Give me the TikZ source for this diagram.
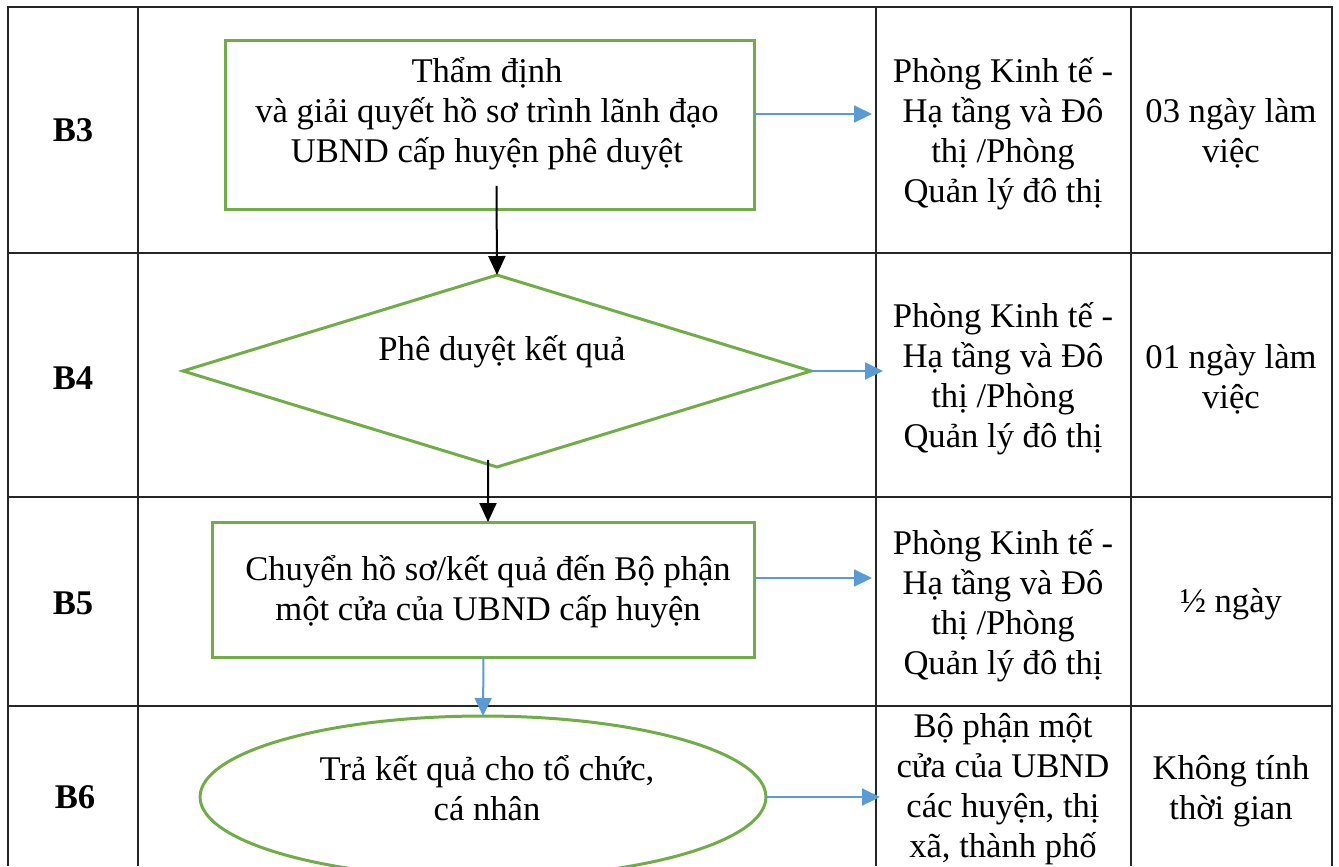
\documentclass[tikz,border=0pt]{standalone}
\usepackage{fontspec}
\setmainfont{Liberation Serif}
\usepackage{xcolor}
\usetikzlibrary{arrows.meta, positioning, shapes.geometric}

\definecolor{boxgreen}{HTML}{70AD47}
\definecolor{arrowblue}{HTML}{5B9BD5}

\tikzset{
    grid/.style={line width=0.04cm, draw=black!85},
    stepbox/.style={draw=boxgreen, line width=0.06cm, rectangle, inner sep=0pt, outer sep=0pt},
    txt/.style={align=center, font=\fontsize{19.7}{22.8}\selectfont},
    rowlabel/.style={font=\fontsize{19.7}{22.8}\selectfont\bfseries},
    blackarr/.style={line width=0.04cm, -{Triangle[length=0.38cm, width=0.34cm]}},
    bluearr/.style={line width=0.04cm, draw=arrowblue, -{Triangle[length=0.36cm, width=0.34cm, fill=arrowblue]}}
}

\begin{document}
\begin{tikzpicture}[x=0.02cm, y=-0.02cm]
        \useasboundingbox (0,0) rectangle (1339,866);

        % Table grid
        \draw[grid] (8,866) -- (8,7) -- (1332,7) -- (1332,866);
        \draw[grid] (138,7) -- (138,866);
        \draw[grid] (876,7) -- (876,866);
        \draw[grid] (1131,7) -- (1131,866);
        \draw[grid] (8,253) -- (1332,253);
        \draw[grid] (8,497) -- (1332,497);
        \draw[grid] (8,706) -- (1332,706);

        % Step labels
        \node (b3) [rowlabel] at (73,130) {B3};
        \node (b4) [rowlabel] at (73,378) {B4};
        \node (b5) [rowlabel] at (73,603) {B5};
        \node (b6) [rowlabel] at (75,797) {B6};

        % Flow shapes
        \node (check) [stepbox, minimum width=10.58cm, minimum height=3.4cm] at (490,125) {};
        \node (checktext) [txt] at (487,114) {Thẩm định\\và giải quyết hồ sơ trình lãnh đạo\\UBND cấp huyện phê duyệt};

        \node (decide) [stepbox, diamond, minimum width=12.56cm, minimum height=3.84cm] at (497,371) {};
        \node (decidetext) [txt] at (502,352) {Phê duyệt kết quả};

        \node (transfer) [stepbox, minimum width=10.86cm, minimum height=2.72cm] at (483.5,590) {};
        \node (transfertext) [txt] at (488,592) {Chuyển hồ sơ/kết quả đến Bộ phận\\một cửa của UBND cấp huyện};

        \node (done) [stepbox, ellipse, minimum width=11.32cm, minimum height=3.24cm] at (483,797) {};
        \node (donetext) [txt] at (487,788) {Trả kết quả cho tổ chức,\\cá nhân};

        % Responsible units
        \node (unit3) [txt] at (1003,134) {Phòng Kinh tế -\\Hạ tầng và Đô\\thị /Phòng\\Quản lý đô thị};
        \node (unit4) [txt] at (1003,379) {Phòng Kinh tế -\\Hạ tầng và Đô\\thị /Phòng\\Quản lý đô thị};
        \node (unit5) [txt] at (1003,606) {Phòng Kinh tế -\\Hạ tầng và Đô\\thị /Phòng\\Quản lý đô thị};
        \node (unit6) [txt] at (1003,789) {Bộ phận một\\cửa của UBND\\các huyện, thị\\xã, thành phố};

        % Time
        \node (time3) [txt] at (1231,133) {03 ngày làm\\việc};
        \node (time4) [txt] at (1231,379) {01 ngày làm\\việc};
        \node (time5) [txt] at (1231,604) {½ ngày};
        \node (time6) [txt] at (1231,791) {Không tính\\thời gian};

        % Arrow ends
        \coordinate (tip3) at (872,114);
        \coordinate (tip4) at (883,371);
        \coordinate (tip5) at (872,578);
        \coordinate (tip6) at (880,797);

        % Arrows
        \draw[blackarr] ([xshift=0.13cm, yshift=0.48cm]check.south) -- (decide.north);
        \draw[blackarr] ([xshift=-0.18cm, yshift=0.14cm]decide.south) -- ([xshift=0.09cm]transfer.north);
        \draw[bluearr] (transfer.south) -- (done.north);
        \draw[bluearr] (check.east |- tip3) -- (tip3);
        \draw[bluearr] (decide.east) -- (tip4);
        \draw[bluearr] (transfer.east |- tip5) -- (tip5);
        \draw[bluearr] (done.east) -- (tip6);
    \end{tikzpicture}
\end{document}
